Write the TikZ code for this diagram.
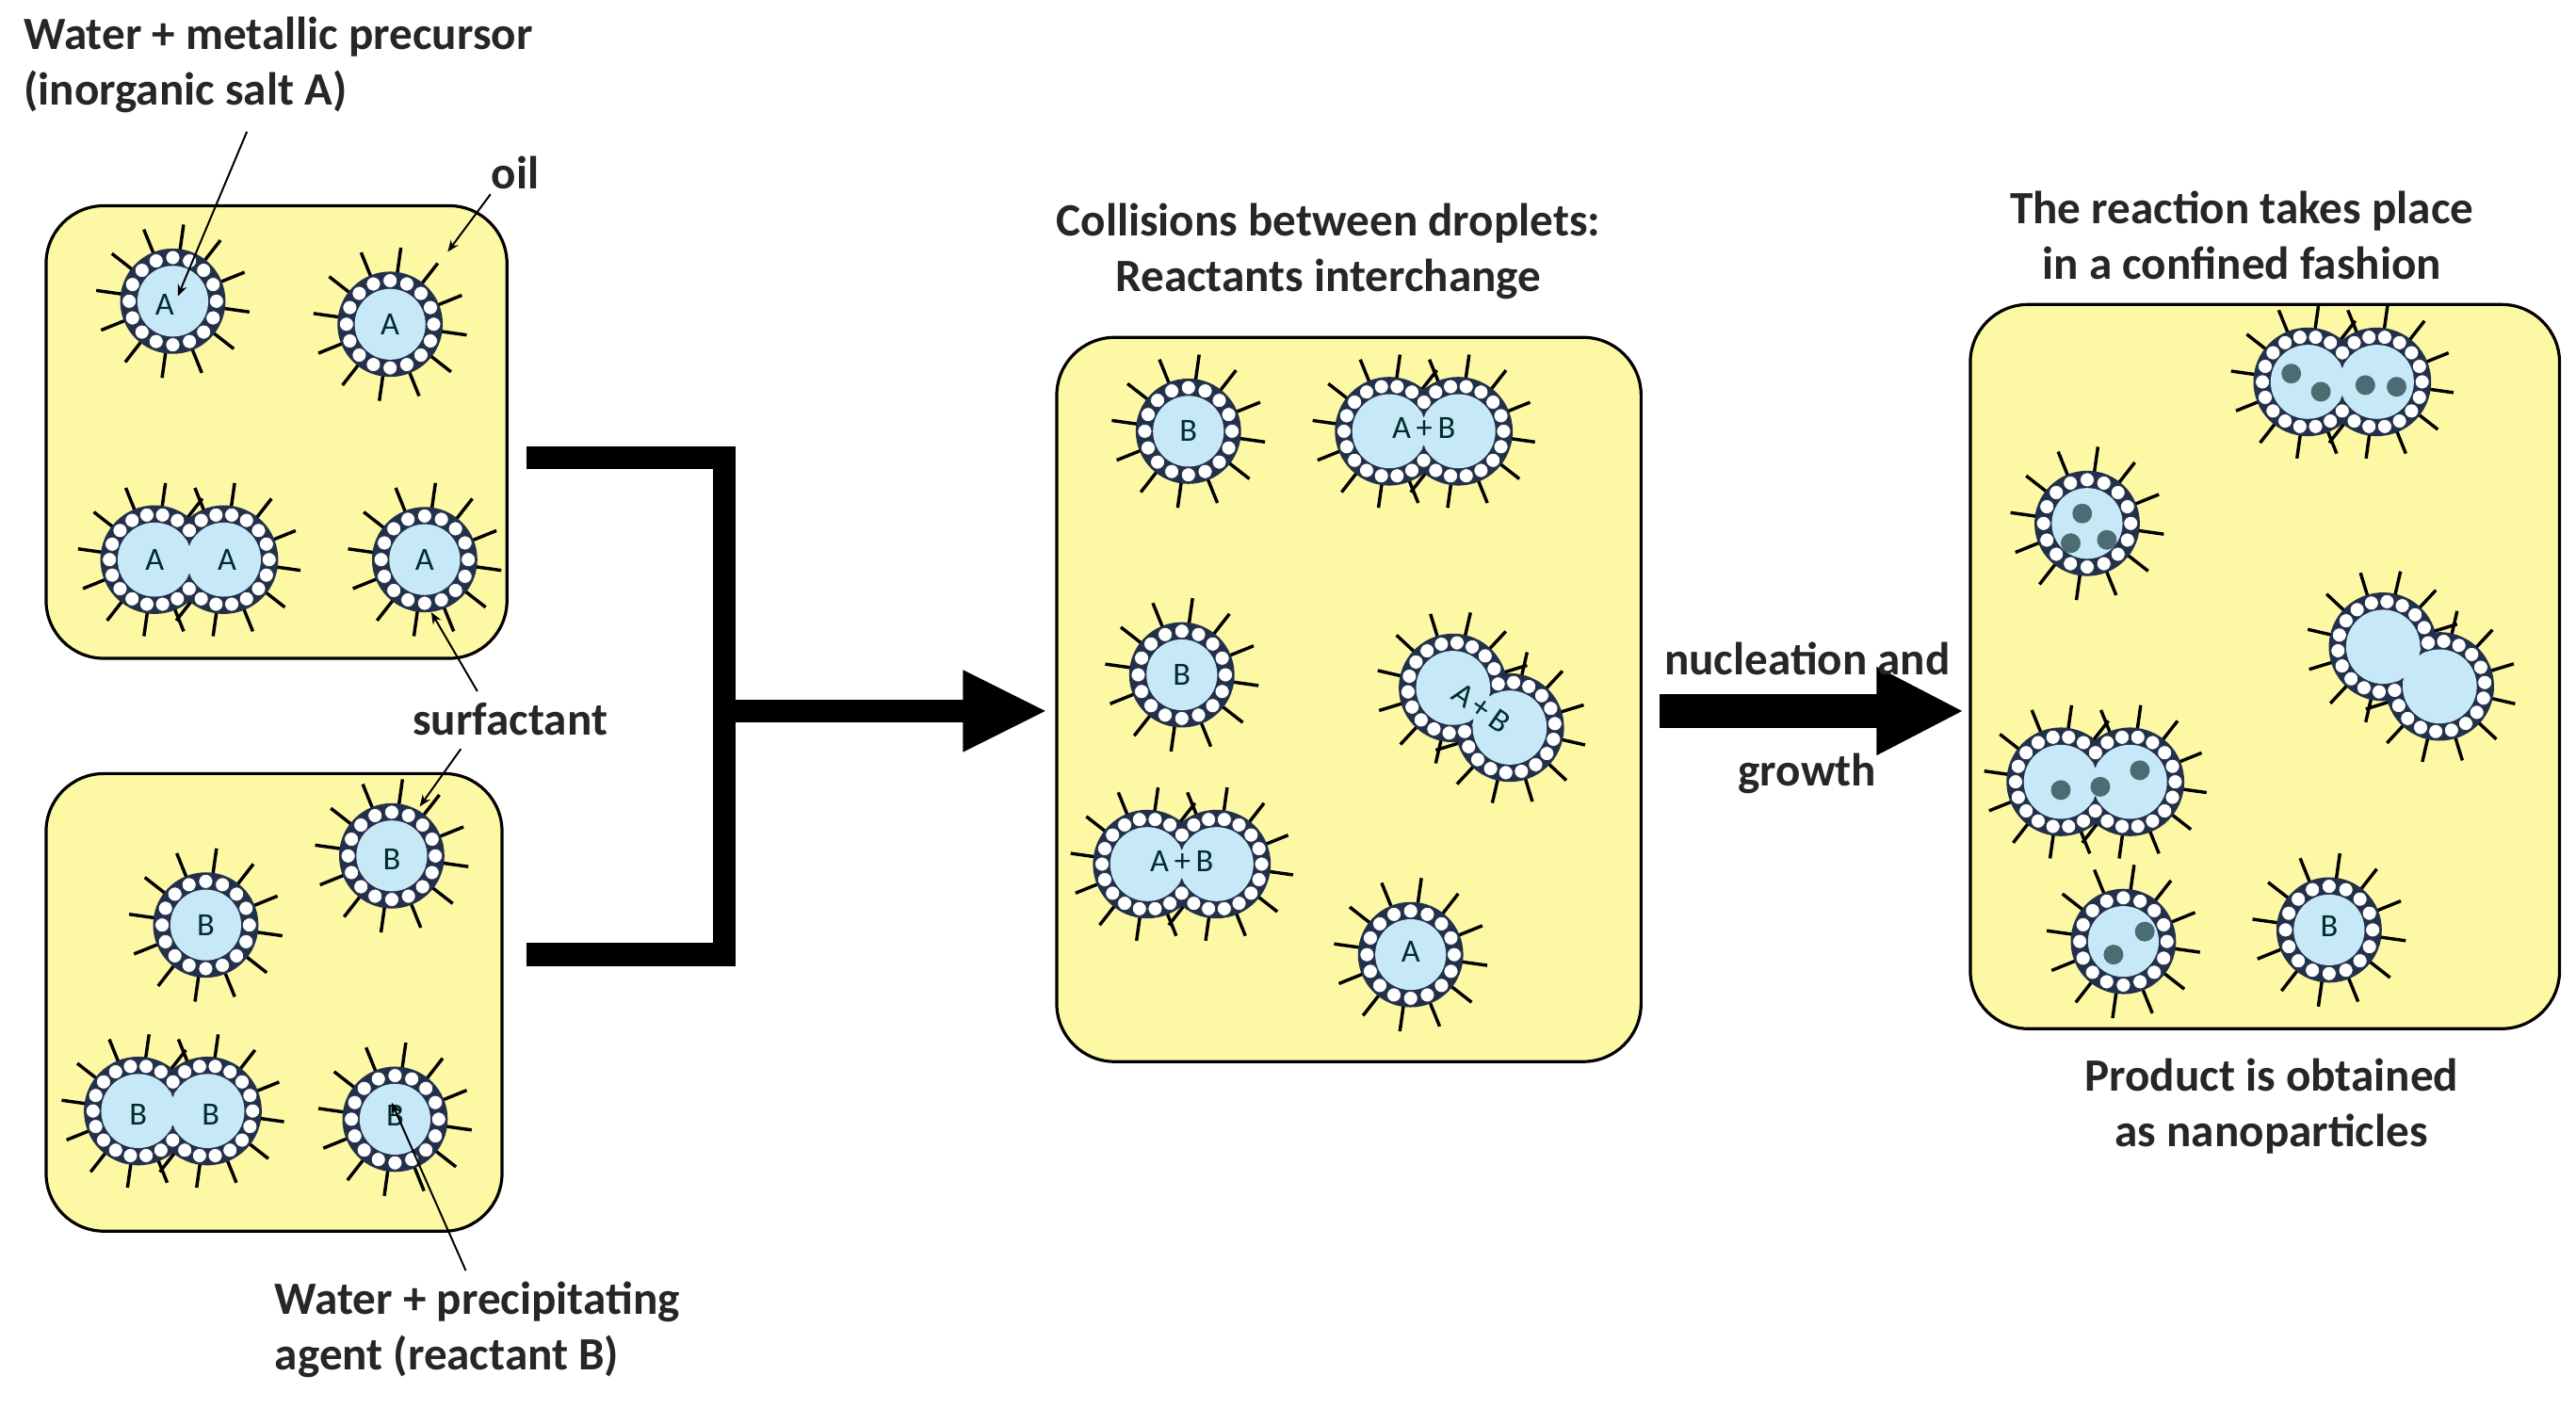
\documentclass[tikz,border=0pt]{standalone}
\usepackage{fontspec}
\setmainfont{Carlito}
\usetikzlibrary{arrows.meta}
\begin{document}
\begin{tikzpicture}[x=0.05cm,y=-0.05cm,
  box/.style={draw=black,line width=2.6pt,fill=boxy,rounded corners=50pt},
  spike/.style={line width=2.8pt,black},
  ring/.style={fill=ringc},
  dotc/.style={fill=white,draw=ringc,line width=0.6pt},
  inner/.style={fill=innc},
  lbl/.style={font=\fontsize{40}{48}\selectfont\bfseries,align=center,text=black!85},
  dl/.style={font=\fontsize{28}{30}\selectfont,text=teal!35!black},
  ptr/.style={line width=1.6pt,-{Stealth[length=10pt,width=8pt]}},
  nuc/.style={fill=nucc}]
\definecolor{boxy}{HTML}{FDF8A4}
\definecolor{ringc}{HTML}{22304A}
\definecolor{innc}{HTML}{C7E8F7}
\definecolor{nucc}{HTML}{4A6C72}
\tikzset{
 drop/.pic={
   \foreach \a in {0,30,...,330}{\draw[spike] (\a+8:30) -- (\a+8:47);}
   \fill[ring] (0,0) circle[radius=32];
   \foreach \a in {0,22.5,...,337.5}{\draw[dotc] (\a:26.5) circle[radius=4.3];}
   \fill[inner] (0,0) circle[radius=21.5];
 },
 ddrop/.pic={
   \foreach \a in {60,90,...,300}{\draw[spike] ([shift={(-21,0)}]\a+8:30) -- ([shift={(-21,0)}]\a+8:47);}
   \foreach \a in {-120,-90,...,120}{\draw[spike] ([shift={(21,0)}]\a+8:30) -- ([shift={(21,0)}]\a+8:47);}
   \fill[ring] (-21,0) circle[radius=33] (21,0) circle[radius=33];
   \foreach \a in {0,20,...,340}{\draw[dotc] ([shift={(-21,0)}]\a:27.5) circle[radius=4.3];
      \draw[dotc] ([shift={(21,0)}]\a:27.5) circle[radius=4.3];}
   \fill[inner] (-21,0) circle[radius=22.5] (21,0) circle[radius=22.5];
 }}
\useasboundingbox (0,0) rectangle (1565,855);
\fill[white] (0,0) rectangle (1565,855);
% boxes
\draw[box] (28,125) rectangle (308,400);
\draw[box] (28,470) rectangle (305,748);
\draw[box] (642,205) rectangle (997,645);
\draw[box] (1197,185) rectangle (1555,625);
% box1
\pic at (105,183) {drop}; \node[dl] (a1) at (100,185) {A};
\pic at (237,197) {drop}; \node[dl] (a2) at (237,197) {A};
\pic at (115,340) {ddrop}; \node[dl] (a3) at (94,340) {A}; \node[dl] (a4) at (138,340) {A};
\pic at (258,340) {drop}; \node[dl] (a5) at (258,340) {A};
% box2
\pic at (125,562) {drop}; \node[dl] (b1) at (125,562) {B};
\pic at (238,520) {drop}; \node[dl] (b2) at (238,522) {B};
\pic at (105,675) {ddrop}; \node[dl] (b3) at (84,677) {B}; \node[dl] (b4) at (128,677) {B};
\pic at (240,680) {drop}; \node[dl] (b5) at (240,678) {B};
% box3
\pic at (722,262) {drop}; \node[dl] (c1) at (722,262) {B};
\pic at (865,262) {ddrop}; \node[dl] (c2) at (865,260) {A\,+\,B};
\pic at (718,410) {drop}; \node[dl] (c3) at (718,410) {B};
\pic[rotate=-35] at (900,430) {ddrop}; \node[dl,rotate=-35] (c4) at (900,430) {A\,+\,B};
\pic at (718,525) {ddrop}; \node[dl] (c5) at (718,523) {A\,+\,B};
\pic at (857,580) {drop}; \node[dl] (c6) at (857,578) {A};
% box4
\pic at (1423,232) {ddrop};
\foreach \p in {(1392,227),(1410,238),(1437,234),(1456,235)} \fill[nuc] \p circle[radius=6];
\pic at (1268,318) {drop};
\foreach \p in {(1265,312),(1258,330),(1280,328)} \fill[nuc] \p circle[radius=6];
\pic[rotate=-35] at (1465,405) {ddrop};
\pic at (1273,475) {ddrop};
\foreach \p in {(1252,480),(1276,478),(1300,468)} \fill[nuc] \p circle[radius=6];
\pic at (1290,572) {drop};
\foreach \p in {(1303,566),(1284,580)} \fill[nuc] \p circle[radius=6];
\pic at (1415,565) {drop}; \node[dl] (d1) at (1415,563) {B};
% connectors
\coordinate (t1) at (320,278); \coordinate (k1) at (440,278);
\coordinate (t2) at (320,580); \coordinate (k2) at (440,580);
\coordinate (km) at (440,432); \coordinate (ah) at (590,432);
\draw[line width=20pt,line join=miter] (t1) -- (k1) -- (k2) -- (t2);
\draw[line width=20pt] (km) -- (ah);
\fill (585,407) -- (635,432) -- (585,457) -- cycle;
\coordinate (s2) at (1008,432); \coordinate (e2) at (1145,432);
\draw[line width=30pt] (s2) -- (e2);
\fill (1140,405) -- (1192,432) -- (1140,459) -- cycle;
% texts
\node[lbl,align=left,anchor=north west] (t-water) at (12,8) {Water + metallic precursor\\(inorganic salt A)};
\node[lbl] (t-oil) at (313,105) {oil};
\node[lbl] (t-surf) at (310,437) {surfactant};
\node[lbl,align=left] (t-prec) at (290,808) {Water + precipitating\\agent (reactant B)};
\node[lbl] (t-coll) at (807,153) {Collisions between droplets:\\Reactants interchange};
\node[lbl] (t-reac) at (1362,143) {The reaction takes place\\in a confined fashion};
\node[lbl] (t-nuc) at (1098,400) {nucleation and};
\node[lbl] (t-gro) at (1098,470) {growth};
\node[lbl] (t-prod) at (1380,672) {Product is obtained\\as nanoparticles};
% pointers
\coordinate (p1) at (108,180); \coordinate (p2) at (272,153);
\coordinate (p3) at (262,372); \coordinate (p4) at (255,490); \coordinate (p5) at (238,670);
\draw[ptr] (150,80) -- (p1);
\draw[ptr] (298,118) -- (p2);
\draw[ptr] (290,420) -- (p3);
\draw[ptr] (280,455) -- (p4);
\draw[ptr] (283,772) -- (p5);
\end{tikzpicture}
\end{document}
